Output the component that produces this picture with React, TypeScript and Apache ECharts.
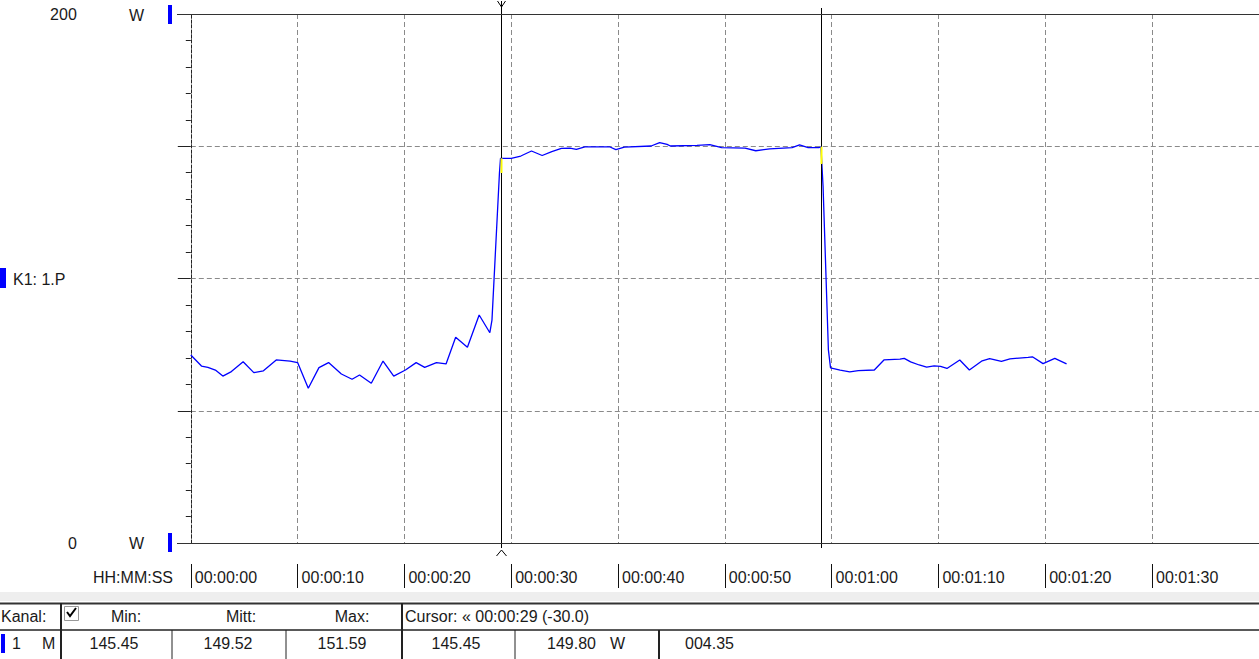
import React, { useEffect, useRef } from 'react';
import * as echarts from 'echarts';

const sampleSeconds = [
  0, 1.0, 1.6, 2.3, 3.0, 3.8, 4.9, 5.9, 6.8, 8.0, 9.3, 10.0, 11.0, 12.0, 12.9, 14.1, 15.1, 15.8, 16.9, 18.0,
  19.0, 20.1, 21.1, 21.9, 23.0, 23.9, 24.8, 25.9, 27.0, 28.0, 28.2, 28.7, 28.9, 29.0, 30.0, 30.9, 31.9, 32.9,
  33.8, 34.7, 35.5, 36.1, 36.9, 39.2, 39.8, 40.6, 43.1, 43.9, 44.6, 44.9, 47.4, 48.6, 49.7, 51.9, 52.9, 54.2,
  56.3, 57.0, 57.8, 58.8, 59.0, 59.2, 59.7, 59.9, 60.8, 61.7, 62.5, 64.0, 64.9, 66.4, 66.8, 67.4, 68.2, 68.9,
  69.6, 70.2, 70.8, 72.0, 72.9, 74.1, 74.8, 75.9, 76.7, 78.4, 78.8, 79.8, 80.9, 82.0,
];
const powerW = [
  71.1, 66.9, 66.4, 65.4, 63.1, 64.8, 68.5, 64.4, 65.1, 69.2, 68.8, 68.2, 58.5, 66.3, 68.2, 63.9, 61.9, 63.5, 60.4, 68.8,
  63.1, 65.4, 68.2, 66.4, 68.2, 67.7, 77.8, 74.0, 86.2, 79.5, 84.3, 124.0, 139.9, 145.45, 145.4, 146.3, 148.2, 146.5,
  148.0, 149.2, 149.3, 148.8, 149.8, 149.8, 148.7, 149.7, 150.1, 151.4, 150.7, 150.1, 150.3, 150.6, 149.5, 149.3, 148.3, 149.0,
  149.5, 150.5, 149.5, 149.5, 149.8, 135.0, 73.0, 66.2, 65.4, 64.7, 65.2, 65.4, 69.2, 69.5, 69.8, 68.5, 67.3, 66.5,
  67.0, 66.8, 66.0, 69.2, 65.4, 68.9, 69.7, 68.7, 69.6, 70.2, 70.4, 67.8, 69.8, 67.7,
];

const xTickLabels = ['00:00:00', '00:00:10', '00:00:20', '00:00:30', '00:00:40', '00:00:50', '00:01:00', '00:01:10', '00:01:20', '00:01:30'];
const yEndLabels: Record<number, string> = { 0: '0', 200: '200' };

const cursorSeconds = [29, 59];
const cursorMarkFrom = [139.9, 149.8];
const cursorMarkTo = [145.45, 143.3];

const statHeaders = ['Min:', 'Mitt:', 'Max:'];
const statValues = ['145.45', '149.52', '151.59'];
const cursorText = 'Cursor: \u00ab 00:00:29 (-30.0)';
const cursorValues = ['145.45', '149.80', '004.35'];

const FONT = '"Liberation Sans", Arial, sans-serif';
const INK = '#1a1a1a';

const txt = (text: string, x: number, y: number, align = 'left') => ({
  type: 'text',
  x,
  y,
  silent: true,
  z: 20,
  style: { text, fill: INK, fontSize: 16, fontFamily: FONT, align, verticalAlign: 'middle' },
});
const ln = (x1: number, y1: number, x2: number, y2: number, w = 1, c = '#222') => ({
  type: 'line',
  silent: true,
  z: 20,
  shape: { x1, y1, x2, y2 },
  style: { stroke: c, lineWidth: w },
});
const box = (x: number, y: number, w: number, h: number, fill: string) => ({
  type: 'rect',
  silent: true,
  z: 20,
  shape: { x, y, width: w, height: h },
  style: { fill },
});

export default function App() {
  const ref = useRef<HTMLDivElement>(null);

  useEffect(() => {
    if (!ref.current) return;
    const chart = echarts.init(ref.current, undefined, { renderer: 'svg' });

    const graphic: any[] = [
      ln(177, 14.5, 1259, 14.5, 1, '#333'),
      ln(177, 543.5, 1259, 543.5, 1, '#333'),
      txt('W', 129, 15),
      txt('W', 129, 543),
      box(168, 5, 4, 19, '#0000ff'),
      box(168, 533, 4, 19, '#0000ff'),
      box(0, 268, 6, 20, '#0000ff'),
      txt('K1: 1.P', 13, 279),
      txt('HH:MM:SS', 93, 577),
      box(0, 592, 1259, 9, '#eeeeee'),
      ln(0, 603.5, 1259, 603.5, 2, '#333'),
      ln(0, 630, 1259, 630, 1.5, '#222'),
      ln(61, 603, 61, 659, 2, '#222'),
      ln(172, 630, 172, 659, 1, '#222'),
      ln(286, 630, 286, 659, 1, '#222'),
      ln(402, 603, 402, 659, 2, '#222'),
      ln(515, 630, 515, 659, 1, '#222'),
      ln(659, 630, 659, 659, 2, '#222'),
      txt('Kanal:', 1, 616),
      {
        type: 'rect',
        silent: true,
        z: 20,
        shape: { x: 64.5, y: 606.5, width: 14, height: 14 },
        style: { fill: '#fff', stroke: '#999', lineWidth: 1 },
      },
      {
        type: 'polyline',
        silent: true,
        z: 21,
        shape: { points: [[67, 612], [70, 616], [76, 608]] },
        style: { stroke: '#000', lineWidth: 2, fill: 'none' },
      },
      txt(statHeaders[0], 126, 616, 'center'),
      txt(statHeaders[1], 241, 616, 'center'),
      txt(statHeaders[2], 352, 616, 'center'),
      txt(cursorText, 405, 616),
      box(1, 634, 4, 19, '#0000ff'),
      txt('1', 12, 643),
      txt('M', 42, 643),
      txt(statValues[0], 114, 643, 'center'),
      txt(statValues[1], 228, 643, 'center'),
      txt(statValues[2], 342, 643, 'center'),
      txt(cursorValues[0], 456, 643, 'center'),
      txt(cursorValues[1], 547, 643),
      txt('W', 610, 643),
      txt(cursorValues[2], 685, 643),
    ];

    const gridDash = { color: '#8a8a8a', type: [5, 3] as any, width: 1 };

    chart.setOption({
      animation: false,
      backgroundColor: '#ffffff',
      grid: { left: 190.8, top: 14, right: 0.2, bottom: 116, containLabel: false },
      xAxis: [
        {
          type: 'value',
          min: 0,
          max: 100,
          interval: 10,
          axisLine: { show: true, lineStyle: { color: '#333' } },
          axisTick: { show: false },
          axisLabel: { show: false },
          splitLine: { show: true, lineStyle: gridDash },
        },
        {
          type: 'value',
          min: 0,
          max: 100,
          interval: 10,
          position: 'bottom',
          offset: 45,
          axisLine: { show: false },
          axisTick: { show: true, inside: true, length: 24, lineStyle: { color: '#111', width: 1 } },
          axisLabel: {
            inside: true,
            margin: 11,
            align: 'left',
            verticalAlign: 'middle',
            padding: [0, 0, 0, 4],
            fontSize: 16,
            fontFamily: FONT,
            color: INK,
            showMaxLabel: false,
            formatter: (v: number) => xTickLabels[Math.round(v / 10)] ?? '',
          },
          splitLine: { show: false },
        },
      ],
      yAxis: {
        type: 'value',
        min: 0,
        max: 200,
        interval: 50,
        axisLine: { show: true, lineStyle: { color: '#222', type: [3, 2] as any } },
        axisTick: { show: true, length: 13, lineStyle: { color: '#222' } },
        minorTick: { show: true, splitNumber: 5, length: 5, lineStyle: { color: '#222' } },
        axisLabel: {
          margin: 114,
          fontSize: 16,
          fontFamily: FONT,
          color: INK,
          formatter: (v: number) => yEndLabels[v] ?? '',
        },
        splitLine: { show: true, lineStyle: gridDash },
      },
      series: [
        {
          type: 'line',
          xAxisIndex: 0,
          data: sampleSeconds.map((t, i) => [t, powerW[i]]),
          symbol: 'none',
          showSymbol: false,
          lineStyle: { color: '#0000ff', width: 1.3 },
          z: 3,
        },
        {
          type: 'custom',
          xAxisIndex: 0,
          clip: false,
          z: 5,
          encode: { x: 0, y: 1 },
          data: cursorSeconds.map((t, i) => [t, cursorMarkFrom[i], cursorMarkTo[i]]),
          renderItem: (params: any, api: any) => {
            const t = api.value(0);
            const top = api.coord([t, 200]);
            const xr = Math.round(top[0]);
            const x = xr + 0.5;
            const yTop = top[1];
            const yBot = api.coord([t, 0])[1];
            const ya = api.coord([t, api.value(1)])[1];
            const yb = api.coord([t, api.value(2)])[1];
            const yHi = Math.min(ya, yb);
            const yLo = Math.max(ya, yb);
            const first = params.dataIndex === 0;
            const children: any[] = [
              {
                type: 'line',
                shape: { x1: x, y1: first ? yTop - 13 : yTop - 6, x2: x, y2: yHi },
                style: { stroke: '#000', lineWidth: 1 },
              },
              {
                type: 'line',
                shape: { x1: x, y1: yLo, x2: x, y2: yBot + 5 },
                style: { stroke: '#000', lineWidth: 1 },
              },
              {
                type: 'line',
                shape: { x1: xr + 0.5, y1: yHi, x2: xr + 0.5, y2: yLo },
                style: { stroke: '#ffff00', lineWidth: 2 },
              },
            ];
            if (first) {
              children.push({
                type: 'polyline',
                shape: { points: [[x - 4, yTop - 13], [x, yTop - 7], [x + 4, yTop - 13]] },
                style: { stroke: '#000', lineWidth: 1, fill: 'none' },
              });
              children.push({
                type: 'polyline',
                shape: { points: [[x - 5, yBot + 13], [x, yBot + 7], [x + 5, yBot + 13]] },
                style: { stroke: '#000', lineWidth: 1, fill: 'none' },
              });
            }
            return { type: 'group', children };
          },
        },
      ],
      graphic,
    });

    return () => chart.dispose();
  }, []);

  return (
    <div
      ref={ref}
      style={{ position: 'fixed', left: 0, top: 0, width: 1259, height: 659, background: '#fff' }}
    />
  );
}
